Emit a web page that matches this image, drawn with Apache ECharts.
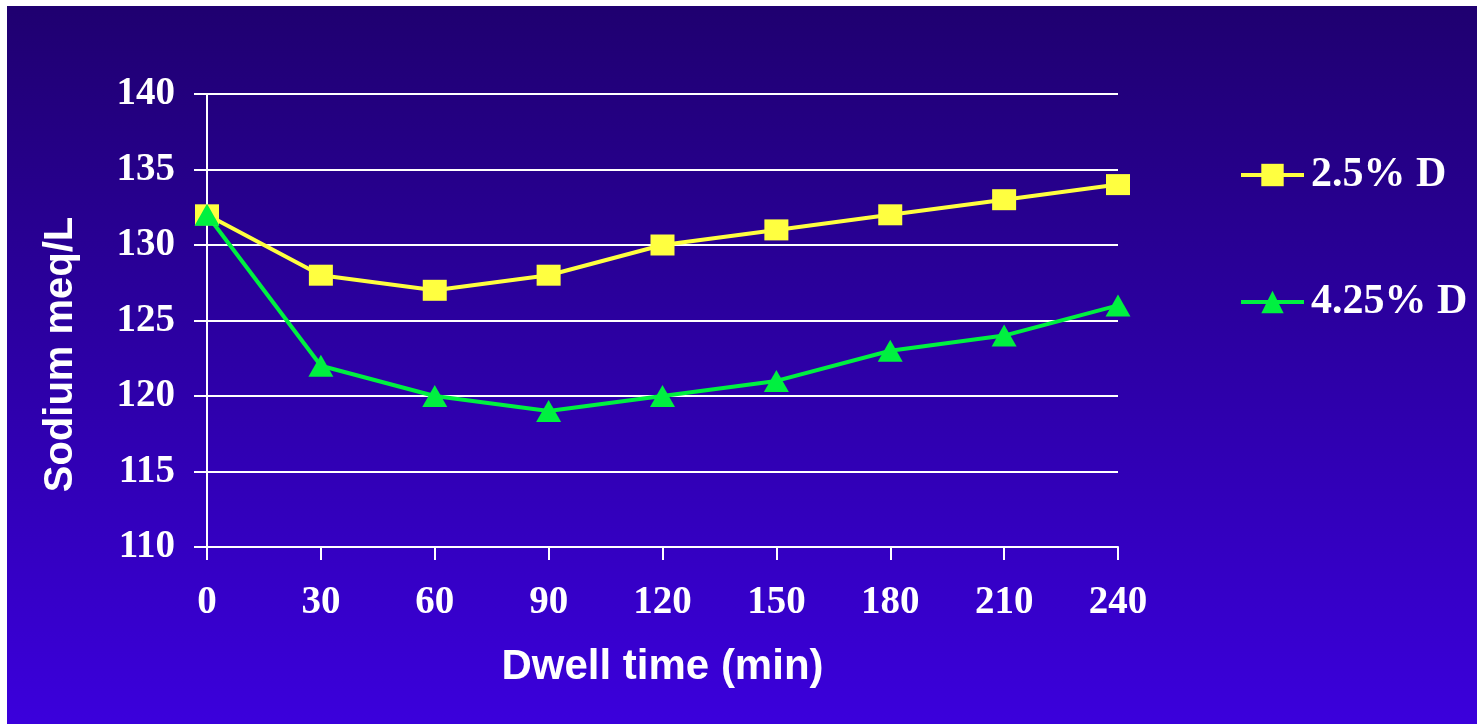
<!DOCTYPE html>
<html><head><meta charset="utf-8">
<script src="https://cdn.jsdelivr.net/npm/echarts@6/dist/echarts.min.js"></script>
<style>html,body{margin:0;padding:0;background:#fff;}#c{position:absolute;left:7px;top:6px;width:1470px;height:718px;}</style>
</head><body><div id="c"></div>
<script>
const dwellTimes = [0, 30, 60, 90, 120, 150, 180, 210, 240];
const sodium25 = [132, 128, 127, 128, 130, 131, 132, 133, 134];
const sodium425 = [132, 122, 120, 119, 120, 121, 123, 124, 126];
const seriesNames = ['2.5% D', '4.25% D'];

const chart = echarts.init(document.getElementById('c'));
const pair = (arr) => dwellTimes.map((t, i) => [t, arr[i]]);
const serif = '"Liberation Serif", "Times New Roman", serif';
const sans = '"Liberation Sans", Arial, sans-serif';
chart.setOption({
  animation: false,
  backgroundColor: new echarts.graphic.LinearGradient(0, 0, 0, 1, [
    {offset: 0, color: '#1f0070'},
    {offset: 1, color: '#3b00dc'}
  ]),
  grid: {left: 200, right: 359, top: 88, bottom: 177},
  legend: {
    orient: 'vertical', left: 1227, top: 143, itemGap: 85,
    itemWidth: 63, itemHeight: 28,
    lineStyle: {width: 4},
    textStyle: {color: '#fff', fontFamily: serif, fontWeight: 'bold', fontSize: 42, padding: [0, 0, 0, 2]},
    data: seriesNames
  },
  xAxis: {
    type: 'value', min: 0, max: 240, interval: 30,
    name: 'Dwell time (min)', nameLocation: 'middle', nameGap: 99,
    nameTextStyle: {color: '#fff', fontFamily: sans, fontWeight: 'bold', fontSize: 42},
    axisLine: {lineStyle: {color: '#fff', width: 2}},
    axisTick: {show: true, length: 13, lineStyle: {color: '#fff', width: 2}},
    axisLabel: {color: '#fff', fontFamily: serif, fontWeight: 'bold', fontSize: 39, margin: 36},
    splitLine: {show: false}
  },
  yAxis: {
    type: 'value', min: 110, max: 140, interval: 5,
    name: 'Sodium meq/L', nameLocation: 'middle', nameGap: 126, nameRotate: 90,
    nameTextStyle: {color: '#fff', fontFamily: sans, fontWeight: 'bold', fontSize: 40, padding: [0, 68, 0, 0]},
    axisLine: {show: true, lineStyle: {color: '#fff', width: 2}},
    axisTick: {show: true, length: 13, lineStyle: {color: '#fff', width: 2}},
    axisLabel: {color: '#fff', fontFamily: serif, fontWeight: 'bold', fontSize: 39, margin: 32},
    splitLine: {show: true, lineStyle: {color: '#fff', width: 2}}
  },
  series: [
    {name: seriesNames[0], type: 'line', data: pair(sodium25), symbol: 'rect', symbolSize: [24, 21],
     lineStyle: {color: '#ffff40', width: 4}, itemStyle: {color: '#ffff40'}},
    {name: seriesNames[1], type: 'line', data: pair(sodium425), symbol: 'triangle', symbolSize: [25, 22],
     lineStyle: {color: '#00f040', width: 4}, itemStyle: {color: '#00f040'}}
  ]
});
</script></body></html>
